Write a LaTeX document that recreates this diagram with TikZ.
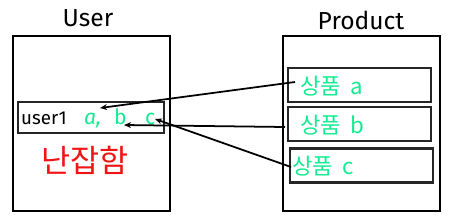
\documentclass[tikz,border=0pt]{standalone}
\usepackage{fontspec}
\setmainfont{Fira Sans}
\newfontfamily\krfont{Noto Sans CJK KR}
\usetikzlibrary{positioning,arrows.meta}
\definecolor{itemGreen}{RGB}{20,235,145}
\definecolor{messRed}{RGB}{240,20,20}

\begin{document}
\begin{tikzpicture}[
    x=0.03cm, y=-0.03cm,
    tablebox/.style={rectangle, draw=black, line width=2pt, minimum width=4.71cm, minimum height=5.25cm, inner sep=0pt},
    rowbox/.style={rectangle, draw=black!85, line width=1.8pt, minimum width=4.29cm, minimum height=1.02cm, inner sep=0pt},
    title/.style={font=\fontsize{21}{21}\selectfont},
    item/.style={text=itemGreen, inner sep=0pt, font=\fontsize{18}{18}\selectfont},
    prodname/.style={text=itemGreen, inner sep=0pt, anchor=west, font=\krfont\fontsize{19}{19}\selectfont},
    link/.style={-{Stealth[length=6pt,width=5pt]}, line width=1.5pt}
]
  \useasboundingbox (0,0) rectangle (455,221);

  % tables
  \node[tablebox] (userTable) at (91.5,123.5) {};
  \node[tablebox] (productTable) at (361.5,123.5) {};
  \node[title] (userTitle) at (88,18) {User};
  \node[title] (productTitle) at (361,20) {Product};

  % user row
  \node[rowbox, minimum width=4.38cm, minimum height=0.93cm] (userRow) at (91,117.5) {};
  \node[anchor=west, inner sep=0pt, font=\fontsize{16}{16}\selectfont] (userName) at (21,118) {user1};
  \node[item, anchor=base west, font=\fontsize{18}{18}\selectfont\itshape] (itemA) at (84,124) {a,};
  \node[item, anchor=base west] (itemB) at (114,124) {b};
  \node[item, anchor=base west] (itemC) at (145,124) {c};
  \node[text=messRed, font=\krfont\fontsize{27}{27}\selectfont] (mess) at (85,160) {난잡함};

  % product rows
  \node[rowbox] (prodA) at (359.5,85) {};
  \node[rowbox] (prodB) at (359.5,124) {};
  \node[rowbox] (prodC) at (361.5,165.5) {};
  \node[prodname] (nameA) at (300,86) {상품\hspace{0.4em}a};
  \node[prodname] (nameB) at (300,125) {상품\hspace{0.4em}b};
  \node[prodname] (nameC) at (292,166) {상품\hspace{0.4em}c};

  \coordinate (startA) at (295,82);
  \coordinate (startB) at (285,127);
  \coordinate (startC) at (291,167);
  \coordinate (endA) at (100,108);
  \coordinate (endB) at (124,125);
  \coordinate (endC) at (155,119);

  % links
  \draw[link] (startA) -- (endA);
  \draw[link] (startB) -- (endB);
  \draw[link] (startC) -- (endC);
\end{tikzpicture}
\end{document}
